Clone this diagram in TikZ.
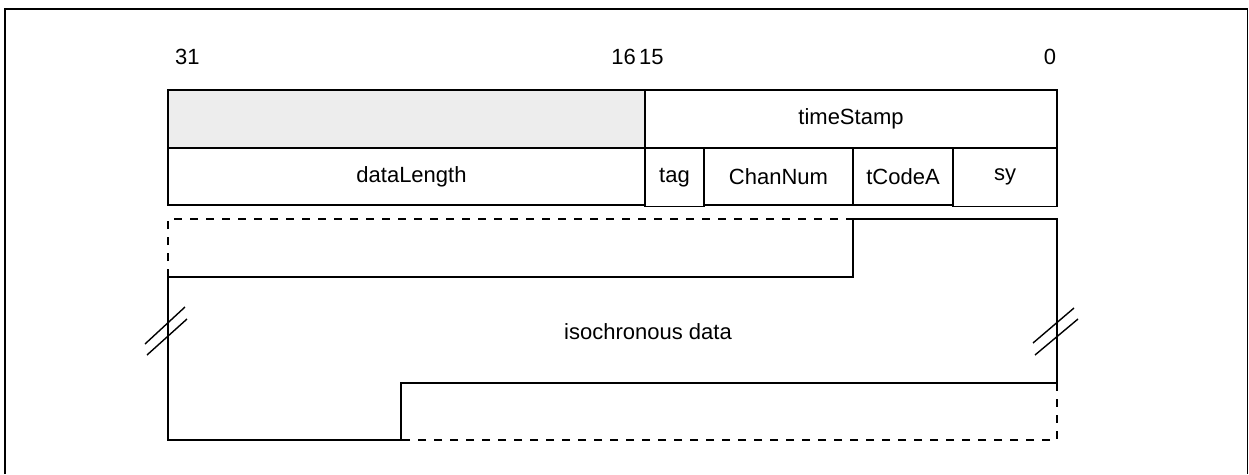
\documentclass[tikz,border=0pt]{standalone}
\usepackage{fontspec}
\setmainfont{Liberation Sans}
\begin{document}
\begin{tikzpicture}[x=1pt,y=-1pt,
  field/.style={draw, line width=1.6pt, rectangle, inner sep=0pt, outer sep=0pt,
    anchor=north west},
  txt/.style={font=\fontsize{22}{26}\selectfont},
  bitlbl/.style={inner sep=0pt, font=\fontsize{22}{26}\selectfont},
  outline/.style={line width=1.6pt, line join=miter},
  dashline/.style={line width=1.6pt, dash pattern=on 8pt off 8pt},
  breakmark/.style={line width=1.4pt}]
\useasboundingbox (0,0) rectangle (1249,474);
% frame
\draw[line width=1.6pt] (5,474) -- (5,9) -- (1247.5,9) -- (1247.5,474);
% bit labels
\node[bitlbl, anchor=west] (b31) at (175,57) {31};
\node[bitlbl, anchor=east] (b16) at (636,57) {16};
\node[bitlbl, anchor=west] (b15) at (639,57) {15};
\node[bitlbl] (b0) at (1050,57) {0};
% row 1
\node[field, fill=black!7, minimum width=477pt, minimum height=58pt] (rsv) at (168,90) {};
\node[field, minimum width=412pt, minimum height=58pt] (ts) at (645,90) {};
\node[txt] at (ts.center) {timeStamp};
% row 2
\node[field, minimum width=477pt, minimum height=57pt] (dl) at (168,148) {};
\node[txt] at ([xshift=5pt]dl.center) {dataLength};
\node[field, minimum width=59pt, minimum height=58.5pt] (tag) at (645,148) {};
\node[txt] at (tag.center) {tag};
\node[field, minimum width=149pt, minimum height=57pt] (cn) at (704,148) {};
\node[txt] at (cn.center) {ChanNum};
\node[field, minimum width=100pt, minimum height=57pt] (tc) at (853,148) {};
\node[txt] at (tc.center) {tCodeA};
\node[field, minimum width=104pt, minimum height=58.5pt] (sy) at (953,148) {};
\node[txt] at (sy.center) {sy};
% isochronous data outline
\coordinate (A) at (168,219);
\coordinate (B) at (853,219);
\coordinate (C) at (1057,219);
\coordinate (D) at (853,277);
\coordinate (E) at (168,277);
\coordinate (F) at (1057,383);
\coordinate (G) at (401,383);
\coordinate (H) at (401,440);
\coordinate (I) at (168,440);
\coordinate (J) at (1057,440);
\draw[outline] (E) -- (D) -- (B) -- (C) -- (F) -- (G) -- (H) -- (I) -- cycle;
\draw[dashline] (E) -- (A) -- (B);
\draw[dashline] (F) -- (J) -- (H);
\node[txt] (iso) at (648,332) {isochronous data};
% break marks
\draw[breakmark] (145,344) -- (185,307);
\draw[breakmark] (147,355) -- (187,319);
\draw[breakmark] (1033,343) -- (1074,308);
\draw[breakmark] (1035,355) -- (1078,319);
\end{tikzpicture}
\end{document}
